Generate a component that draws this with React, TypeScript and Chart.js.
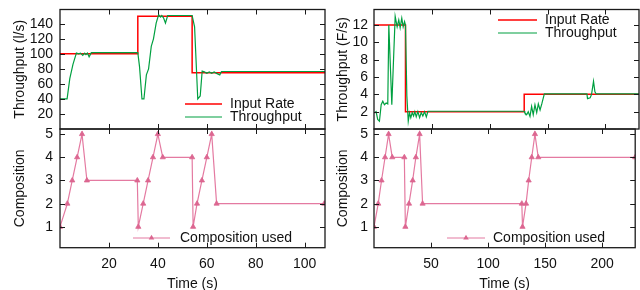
import React, { useEffect, useRef } from 'react';
import { Chart, registerables } from 'chart.js';

Chart.register(...registerables);

// ---------- Left experiment (l/s) ----------
const leftTime = [0, 2.9, 4, 5.3, 6.7, 7.6, 8.4, 9.3, 10.1, 10.6, 11.2, 11.9, 12.8, 31.8, 32.5, 33.5, 34.3, 35.3, 36.2, 37.3, 38.2, 39.3, 40.3, 41.1, 41.6, 42.3, 43.1, 44, 54, 55, 56.3, 57.3, 58.1, 59, 60, 61, 62, 63, 64, 65.3, 66, 108.3];
const leftThroughput = [40, 40, 67, 86, 101, 100, 101, 98, 101, 99, 101, 96, 101.5, 101.5, 83, 40, 40, 72, 80, 110, 120, 141, 152, 149, 151, 148, 141, 151, 151, 136, 40, 44, 77, 76, 74, 76, 74, 76, 74, 72, 76.5, 76.5];
const leftRateTime = [0, 31.8, 54, 108.3];
const leftRate = [100, 150, 75, 75];
const leftCompTime = [0, 3, 5, 7, 9, 11, 31.6, 32, 34, 36, 38, 40, 42, 54, 54.4, 56, 58, 60, 62, 64, 108];
const leftComp = [1, 2, 3, 4, 5, 3, 3, 1, 2, 3, 4, 5, 4, 4, 1, 2, 3, 4, 5, 2, 2];

// ---------- Right experiment (F/s) ----------
const rightTime = [0.35, 1.8, 3.2, 4.7, 6.2, 7.6, 9, 10.5, 11.9, 12.8, 15.4, 18.3, 20, 21.4, 22.6, 24, 25.2, 26.4, 27.2, 28.4, 29.6, 30.7, 31.8, 33, 34.2, 35.3, 36.5, 37.9, 39.4, 40.8, 42.2, 43.7, 45.2, 46.6, 129.8, 130.4, 131.9, 133.3, 134.8, 136.2, 137.6, 139.1, 140.6, 142, 143.5, 145, 147.2, 184, 184.5, 186.8, 188, 189.7, 190.9, 192, 229];
const rightThroughput = [1.85, 2.0, 1.1, 0.9, 2.8, 3.2, 2.8, 3.0, 2.9, 12.0, 2.8, 13.0, 11.8, 12.6, 11.7, 12.8, 11.8, 12.4, 12.0, 3.8, 0.9, 1.85, 1.3, 1.9, 1.5, 2.0, 1.4, 2.0, 1.3, 1.9, 1.5, 2.0, 1.4, 2.05, 2.05, 1.85, 1.65, 2.0, 1.46, 2.6, 1.65, 2.8, 1.9, 2.9, 2.2, 2.9, 4.05, 4.05, 3.5, 3.6, 4.0, 5.5, 4.3, 4.05, 4.05];
const rightRateTime = [0, 27.2, 129.8, 229];
const rightRate = [12, 2, 4, 4];
const rightCompTime = [0, 3.7, 6.6, 9.7, 12.8, 16, 26.6, 27.5, 30.7, 33.9, 36.7, 40, 42.6, 129.6, 130.2, 133.3, 135.6, 138.3, 141.1, 144, 229];
const rightComp = [1, 2, 3, 4, 5, 4, 4, 1, 2, 3, 4, 5, 2, 2, 1, 2, 3, 4, 5, 4, 4];

// ---------- Ticks ----------
const leftXTicks = [20, 40, 60, 80, 100];
const rightXTicks = [50, 100, 150, 200];
const leftYTicks = [20, 40, 60, 80, 100, 120, 140];
const rightYTicks = [2, 4, 6, 8, 10, 12];
const compTicks = [1, 2, 3, 4, 5];

const FONT = { family: "'Liberation Sans', Arial, Helvetica, sans-serif", size: 14 };
const TEXT = '#111111';
const RED = '#ff0000';
const GREEN = '#00a040';
const PINK = '#e47aa1';
const PINK_MARK = '#dc6690';

const zip = (xs: number[], ys: number[]) => xs.map((x, i) => ({ x, y: ys[i] }));

function triangle(ctx: CanvasRenderingContext2D, x: number, y: number, r: number) {
  let rad = 0;
  ctx.beginPath();
  for (let k = 0; k < 3; k++) {
    const px = x + Math.sin(rad) * r;
    const py = y - Math.cos(rad) * r;
    if (k === 0) ctx.moveTo(px, py); else ctx.lineTo(px, py);
    rad += (2 * Math.PI) / 3;
  }
  ctx.closePath();
  ctx.fill();
}

const framePlugin = {
  id: 'frame',
  afterDraw(chart: any, _args: any, opts: any) {
    const { ctx, chartArea: a } = chart;
    const xs = chart.scales.x;
    const ys = chart.scales.y;
    const L = 5;
    ctx.save();
    ctx.strokeStyle = '#1a1a1a';
    ctx.lineWidth = 1;
    ctx.beginPath();
    xs.ticks.forEach((t: any) => {
      const px = Math.round(xs.getPixelForValue(t.value)) + 0.5;
      ctx.moveTo(px, a.top); ctx.lineTo(px, a.top + L);
      ctx.moveTo(px, a.bottom); ctx.lineTo(px, a.bottom - L);
    });
    ys.ticks.forEach((t: any) => {
      const py = Math.round(ys.getPixelForValue(t.value)) + 0.5;
      ctx.moveTo(a.left, py); ctx.lineTo(a.left + L, py);
      ctx.moveTo(a.right, py); ctx.lineTo(a.right - L, py);
    });
    ctx.stroke();
    ctx.lineWidth = 1.3;
    ctx.strokeRect(a.left, a.top, a.right - a.left, a.bottom - a.top);

    (opts.items || []).forEach((it: any) => {
      const ds = chart.data.datasets[it.ds];
      ctx.strokeStyle = ds.borderColor;
      ctx.lineWidth = it.lw || ds.borderWidth;
      ctx.beginPath();
      ctx.moveTo(it.x0, it.y); ctx.lineTo(it.x1, it.y);
      ctx.stroke();
      if (it.marker) {
        ctx.fillStyle = ds.pointBackgroundColor;
        triangle(ctx, (it.x0 + it.x1) / 2, it.y, 3.2);
      }
      ctx.fillStyle = TEXT;
      ctx.font = `${FONT.size}px ${FONT.family}`;
      ctx.textAlign = 'left';
      ctx.textBaseline = 'middle';
      ctx.fillText(ds.label, it.tx, it.y);
    });
    ctx.restore();
  },
};

type Cfg = {
  datasets: any[];
  xMax: number; xTicks: number[]; showX: boolean; xHeight: number;
  yMin: number; yMax: number; yTicks: number[]; yTitle: string;
  yWidth: number; yTitlePad: number; yTickPad: number;
  padding: any; legend: any[];
};

function makeConfig(c: Cfg): any {
  return {
    type: 'line',
    data: { datasets: c.datasets },
    plugins: [framePlugin],
    options: {
      responsive: false,
      maintainAspectRatio: false,
      animation: false,
      events: [],
      layout: { padding: c.padding },
      plugins: {
        legend: { display: false },
        tooltip: { enabled: false },
        frame: { items: c.legend },
      },
      scales: {
        x: {
          type: 'linear',
          min: 0,
          max: c.xMax,
          afterBuildTicks: (s: any) => { s.ticks = c.xTicks.map((v) => ({ value: v })); },
          afterFit: (s: any) => {
            s.height = c.xHeight;
            s.paddingLeft = 0; s.paddingRight = 0; s.paddingTop = 0; s.paddingBottom = 0;
          },
          grid: { display: false, drawTicks: false },
          border: { display: false },
          ticks: { display: c.showX, padding: 8, autoSkip: false, maxRotation: 0, font: FONT, color: TEXT },
          title: { display: c.showX, text: 'Time (s)', padding: { top: 0, bottom: 5 }, font: FONT, color: TEXT },
        },
        y: {
          type: 'linear',
          min: c.yMin,
          max: c.yMax,
          afterBuildTicks: (s: any) => { s.ticks = c.yTicks.map((v) => ({ value: v })); },
          afterFit: (s: any) => {
            s.width = c.yWidth;
            s.paddingLeft = 0; s.paddingRight = 0; s.paddingTop = 0; s.paddingBottom = 0;
          },
          grid: { display: false, drawTicks: false },
          border: { display: false },
          ticks: { padding: c.yTickPad, autoSkip: false, font: FONT, color: TEXT },
          title: { display: true, text: c.yTitle, padding: { top: c.yTitlePad, bottom: 0 }, font: FONT, color: TEXT },
        },
      },
    },
  };
}

const throughputSets = (t: number[], v: number[], rt: number[], rv: number[]) => [
  { label: 'Input Rate', data: zip(rt, rv), borderColor: RED, borderWidth: 1.5, pointRadius: 0, stepped: true, order: 1 },
  { label: 'Throughput', data: zip(t, v), borderColor: GREEN, borderWidth: 1.2, pointRadius: 0, tension: 0, order: 0 },
];

const compSets = (t: number[], v: number[]) => [
  {
    label: 'Composition used', data: zip(t, v), borderColor: PINK, borderWidth: 1.2,
    pointStyle: 'triangle', pointRadius: 3, pointBackgroundColor: PINK_MARK, pointBorderColor: PINK_MARK, pointBorderWidth: 0.8,
  },
];

const panels = [
  {
    key: 'tl', left: 0, top: 0, width: 330, height: 135,
    cfg: {
      datasets: throughputSets(leftTime, leftThroughput, leftRateTime, leftRate),
      xMax: 108.3, xTicks: leftXTicks, showX: false, xHeight: 6,
      yMin: 0, yMax: 159, yTicks: leftYTicks, yTitle: 'Throughput (l/s)',
      yWidth: 60, yTitlePad: 12, yTickPad: 7,
      padding: { top: 9.5, right: 5, bottom: 0, left: 0 },
      legend: [
        { ds: 0, x0: 185, x1: 222, y: 104, tx: 230 },
        { ds: 1, x0: 185, x1: 222, y: 117, tx: 230 },
      ],
    },
  },
  {
    key: 'bl', left: 0, top: 123, width: 330, height: 175,
    cfg: {
      datasets: compSets(leftCompTime, leftComp),
      xMax: 108.3, xTicks: leftXTicks, showX: true, xHeight: 50.3,
      yMin: 0.1, yMax: 5.22, yTicks: compTicks, yTitle: 'Composition',
      yWidth: 60, yTitlePad: 12, yTickPad: 7,
      padding: { top: 6, right: 5, bottom: 0, left: 0 },
      legend: [{ ds: 0, x0: 133, x1: 170, y: 115, tx: 180, marker: true }],
    },
  },
  {
    key: 'tr', left: 330, top: 0, width: 310, height: 135,
    cfg: {
      datasets: throughputSets(rightTime, rightThroughput, rightRateTime, rightRate),
      xMax: 229, xTicks: rightXTicks, showX: false, xHeight: 6,
      yMin: 0, yMax: 13.8, yTicks: rightYTicks, yTitle: 'Throughput (F/s)',
      yWidth: 44, yTitlePad: 4.6, yTickPad: 6,
      padding: { top: 9.5, right: 1, bottom: 0, left: 0 },
      legend: [
        { ds: 0, x0: 168, x1: 207, y: 20, tx: 215 },
        { ds: 1, x0: 168, x1: 207, y: 33, tx: 215 },
      ],
    },
  },
  {
    key: 'br', left: 330, top: 123, width: 310, height: 175,
    cfg: {
      datasets: compSets(rightCompTime, rightComp),
      xMax: 229, xTicks: rightXTicks, showX: true, xHeight: 50.3,
      yMin: 0.1, yMax: 5.22, yTicks: compTicks, yTitle: 'Composition',
      yWidth: 44, yTitlePad: 4.6, yTickPad: 6,
      padding: { top: 6, right: 1, bottom: 0, left: 0 },
      legend: [{ ds: 0, x0: 117, x1: 155, y: 115, tx: 163, marker: true }],
    },
  },
];

function Panel({ left, top, width, height, cfg }: any) {
  const ref = useRef<HTMLCanvasElement>(null);
  useEffect(() => {
    const chart = new Chart(ref.current as HTMLCanvasElement, makeConfig(cfg));
    return () => chart.destroy();
  }, []);
  return (
    <canvas
      ref={ref}
      width={width}
      height={height}
      style={{ position: 'absolute', left, top, width, height }}
    />
  );
}

export default function App() {
  return (
    <div style={{ position: 'absolute', left: 0, top: 0, width: 640, height: 290, overflow: 'hidden', background: '#fff' }}>
      {panels.map((p) => (
        <Panel key={p.key} left={p.left} top={p.top} width={p.width} height={p.height} cfg={p.cfg} />
      ))}
    </div>
  );
}
